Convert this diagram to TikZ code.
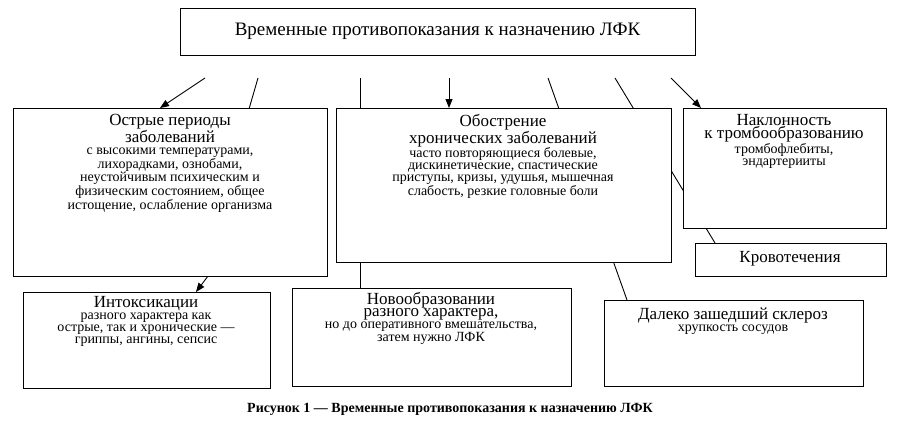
\documentclass[tikz,border=0pt]{standalone}
\usepackage{fontspec}
\setmainfont{Liberation Serif}
\usetikzlibrary{arrows.meta}
\newcommand\hb{\fontsize{17}{21}\selectfont}
\newcommand\hs{\fontsize{14}{19.5}\selectfont}
\begin{document}
\begin{tikzpicture}[x=1pt,y=-1pt,
  bx/.style={draw,fill=white,line width=0.9pt},
  ln/.style={line width=0.9pt},
  ar/.style={line width=0.9pt,-{Triangle[length=9pt,width=7pt]}},
  tx/.style={align=center,anchor=north,inner sep=0pt}]
\useasboundingbox (0,0) rectangle (899,424);
\coordinate (s1) at (205,78);
\coordinate (s2) at (258,78);
\coordinate (s3) at (360,78);
\coordinate (s4) at (449,78);
\coordinate (s5) at (548,78);
\coordinate (s6) at (615,78);
\coordinate (s7) at (671,78);
\coordinate (e1) at (160,108);
\coordinate (e4) at (449,108);
\coordinate (e7) at (701,108);
\coordinate (m2) at (240,140);
\coordinate (f2a) at (208,276);
\coordinate (f2b) at (196,292);
\coordinate (e3) at (360,288);
\coordinate (e5) at (627,300);
\coordinate (e6) at (715,243);
\draw[ar] (s1) -- (e1);
\draw[ar] (s4) -- (e4);
\draw[ar] (s7) -- (e7);
\draw[ln] (s2) -- (m2);
\draw[ar] (f2a) -- (f2b);
\draw[ln] (s3) -- (e3);
\draw[ln] (s5) -- (e5);
\draw[ln] (s6) -- (e6);
\draw[bx] (180,8) rectangle (695,55);
\node[font=\fontsize{19}{21}\selectfont] (t) at (437.5,31) {Временные противопоказания к назначению ЛФК};
\draw[bx] (13,108) rectangle (327,276);
\node[tx] (a) at (170,114) {\hb Острые периоды\\\hb заболеваний\\\hs с высокими температурами,\\\hs лихорадками, ознобами,\\\hs неустойчивым психическим и\\\hs физическим состоянием, общее\\\hs истощение, ослабление организма};
\draw[bx] (336,108) rectangle (671,262);
\node[tx] (b) at (503,114) {\hb Обострение\\\hb хронических заболеваний\\\hs часто повторяющиеся болевые,\\\hs дискинетические, спастические\\\hs приступы, кризы, удушья, мышечная\\\hs слабость, резкие головные боли};
\draw[bx] (683,108) rectangle (886,228);
\node[tx] (c) at (784,114) {\hb Наклонность\\\hb к тромбообразованию\\\hs тромбофлебиты,\\\hs эндартерииты};
\draw[bx] (695,243) rectangle (886,276);
\node[font=\hb] (d) at (790,259) {Кровотечения};
\draw[bx] (23,292) rectangle (270,388);
\node[tx] (e) at (146,296) {\hb Интоксикации\\\hs разного характера как\\\hs острые, так и хронические ---\\\hs гриппы, ангины, сепсис};
\draw[bx] (292,288) rectangle (571,386);
\node[tx] (f) at (431,292) {\hb Новообразовании\\\hb разного характера,\\\hs но до оперативного вмешательства,\\\hs затем нужно ЛФК};
\draw[bx] (604,300) rectangle (863,386);
\node[tx] (g) at (733,308) {\hb Далеко зашедший склероз\\\hs хрупкость сосудов};
\node[font=\bfseries\fontsize{14}{16}\selectfont] (cap) at (450,409) {Рисунок 1 --- Временные противопоказания к назначению ЛФК};
\end{tikzpicture}
\end{document}
